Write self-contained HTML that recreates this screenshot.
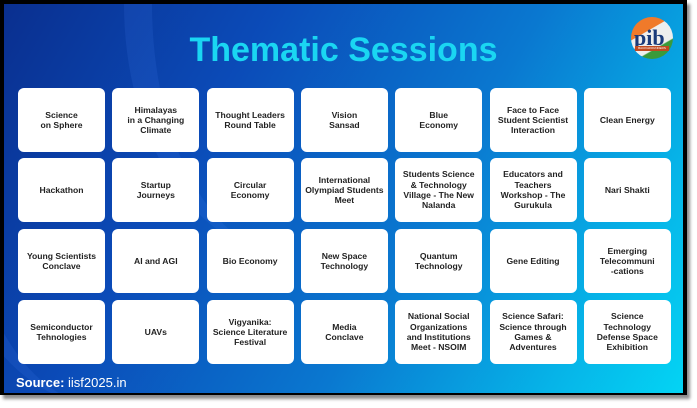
<!DOCTYPE html>
<html><head><meta charset="utf-8"><style>
body{margin:0;width:697px;height:408px;background:#fff;position:relative;overflow:hidden;font-family:"Liberation Sans",sans-serif}
.frame{position:absolute;left:0;top:0;width:687px;height:395px;background:#000;box-shadow:3px 4px 3px rgba(0,0,0,.45)}
.in{position:absolute;left:4px;top:4px;width:679px;height:389px;overflow:hidden;
background:linear-gradient(120deg,#0a2f8f 0%,#0b4bb8 30%,#0a78d0 60%,#06b4e8 85%,#04d4f4 100%)}
.sw{position:absolute;border-radius:50%;border-left:28px solid rgba(80,140,255,.12)}
h1{position:absolute;left:0;width:679px;top:27px;margin:0;text-align:center;color:#1ad6f2;font-size:34px;font-weight:bold;letter-spacing:0px}
.b{position:absolute;width:87px;height:64px;background:#fff;border-radius:6px;display:flex;align-items:center;justify-content:center;text-align:center;font-size:8.6px;font-weight:bold;line-height:10.3px;color:#222;box-sizing:border-box;padding:0 1px}
.src{position:absolute;left:12px;top:371px;color:#fff;font-size:13px}
.logo{position:absolute;left:627px;top:13px;width:42px;height:42px;border-radius:50%;background:linear-gradient(150deg,#f07a2a 0%,#f07a2a 35%,#eee 36%,#eee 68%,#3a9a3a 70%);}
</style></head><body>
<div class="frame"><div class="in">
<div class="sw" style="left:-80px;top:-200px;width:320px;height:600px"></div>
<div class="sw" style="left:120px;top:-250px;width:300px;height:500px"></div>
<h1>Thematic Sessions</h1>
<div class="logo"><div style="position:absolute;left:3px;top:8px;font:bold 22px 'Liberation Serif',serif;color:#1a3a7a">pib</div><div style="position:absolute;left:4px;top:29px;width:34px;height:5px;background:#c04a20;font-size:3px;color:#fff;text-align:center;line-height:5px">BACKGROUNDERS</div></div>
<div id="g"></div>
<div class="src"><b>Source:</b> iisf2025.in</div>
</div></div>
<script>
var t=[["Science<br>on Sphere","Himalayas<br>in a Changing<br>Climate","Thought Leaders<br>Round Table","Vision<br>Sansad","Blue<br>Economy","Face to Face<br>Student Scientist<br>Interaction","Clean Energy"],
["Hackathon","Startup<br>Journeys","Circular<br>Economy","International<br>Olympiad Students<br>Meet","Students Science<br>&amp; Technology<br>Village - The New<br>Nalanda","Educators and<br>Teachers<br>Workshop - The<br>Gurukula","Nari Shakti"],
["Young Scientists<br>Conclave","AI and AGI","Bio Economy","New Space<br>Technology","Quantum<br>Technology","Gene Editing","Emerging<br>Telecommuni<br>-cations"],
["Semiconductor<br>Tehnologies","UAVs","Vigyanika:<br>Science Literature<br>Festival","Media<br>Conclave","National Social<br>Organizations<br>and Institutions<br>Meet - NSOIM","Science Safari:<br>Science through<br>Games &amp;<br>Adventures","Science<br>Technology<br>Defense Space<br>Exhibition"]];
var ys=[84,154,225,296],h="";
for(var r=0;r<4;r++)for(var c=0;c<7;c++)h+='<div class="b" style="left:'+(14+c*94.3)+'px;top:'+ys[r]+'px">'+t[r][c]+'</div>';
document.getElementById('g').innerHTML=h;
</script>
</body></html>
